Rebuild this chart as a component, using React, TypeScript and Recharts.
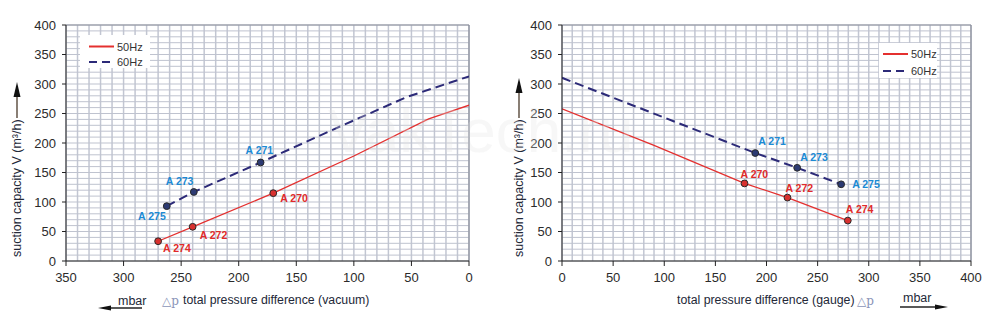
import React from "react";
import { ComposedChart, Line, Scatter, XAxis, YAxis, ReferenceLine, Legend, Label } from "recharts";

// left chart: vacuum (mbar below atmosphere)
const vacuumMbar50 = [270, 240, 170, 100, 35, 0];
const vacuumFlow50 = [33.5, 58, 115, 178, 241, 264];
const vacuumNames50 = ["A 274", "A 272", "A 270", "", "", ""];
const vacuumMbar60 = [262.5, 239, 181, 112, 54, 0];
const vacuumFlow60 = [93, 117, 167, 228, 278, 313];
const vacuumNames60 = ["A 275", "A 273", "A 271", "", "", ""];

// right chart: gauge pressure
const gaugeMbar50 = [0, 90, 178.5, 220.5, 279.5];
const gaugeFlow50 = [258, 196, 131.5, 107.5, 68.5];
const gaugeNames50 = ["", "", "A 270", "A 272", "A 274"];
const gaugeMbar60 = [0, 189, 230, 273];
const gaugeFlow60 = [310.5, 183, 158, 130];
const gaugeNames60 = ["", "A 271", "A 273", "A 275"];

const seriesNames = ["50Hz", "60Hz"];
const flowTicks = [0, 50, 100, 150, 200, 250, 300, 350, 400];
const vacuumTicks = [0, 50, 100, 150, 200, 250, 300, 350];
const gaugeTicks = [0, 50, 100, 150, 200, 250, 300, 350, 400];
const gridStep = 10;

const FONT = '"Liberation Sans", Arial, sans-serif';
const RED = "#e4302f";
const NAVY = "#2c2a78";
const RED_TEXT = "#e02a2a";
const BLUE_TEXT = "#1b8ad4";
const GRID_V = "#c2c6d2";
const GRID_H = "#bfc3cf";

// label placement next to each model point: [dx, dy, anchor]
const vacuumLabelPos: Record<string, [number, number, string]> = {
  "A 274": [5, 11, "start"],
  "A 272": [7, 12, "start"],
  "A 270": [7, 9, "start"],
  "A 275": [-1, 14, "end"],
  "A 273": [-28, -7, "start"],
  "A 271": [-15, -8, "start"],
};
const gaugeLabelPos: Record<string, [number, number, string]> = {
  "A 270": [-4, -5, "start"],
  "A 272": [-2, -6, "start"],
  "A 274": [-2, -8, "start"],
  "A 271": [3, -8, "start"],
  "A 273": [3, -7, "start"],
  "A 275": [11, 4, "start"],
};

const toPoints = (xs: number[], ys: number[], names: string[]) =>
  xs.map((x, i) => ({ x, y: ys[i], name: names[i] }));

const gridValues = (max: number) =>
  Array.from({ length: Math.round(max / gridStep) + 1 }, (_, i) => i * gridStep);

const makeDot = (fill: string, textColor: string, pos: Record<string, [number, number, string]>) =>
  (props: any) => {
    const { cx, cy, payload } = props;
    const p = pos[payload.name] || [5, 0, "start"];
    return (
      <g>
        <circle cx={cx} cy={cy} r={3.4} fill={fill} stroke="#2a2a2a" strokeWidth={1} />
        <text x={cx + p[0]} y={cy + p[1]} textAnchor={p[2] as any} fontSize={10.5} fontWeight="bold"
          fontFamily={FONT} fill={textColor}>{payload.name}</text>
      </g>
    );
  };

const LegendBox = ({ w, h, lineX, textX, row1, row2 }: any) => (
  <svg width={w} height={h} style={{ display: "block" }}>
    <rect x={0} y={0} width={w} height={h} fill="#fff" />
    <line x1={lineX} x2={lineX + 25} y1={row1} y2={row1} stroke={RED} strokeWidth={2} />
    <text x={textX} y={row1 + 4} fontSize={11} fontFamily={FONT} fill="#333">{seriesNames[0]}</text>
    <line x1={lineX} x2={lineX + 25} y1={row2} y2={row2} stroke={NAVY} strokeWidth={2} strokeDasharray="8 5" />
    <text x={textX} y={row2 + 4} fontSize={11} fontFamily={FONT} fill="#333">{seriesNames[1]}</text>
  </svg>
);

const YCaption = ({ viewBox, cx, top }: any) => {
  const bottom = viewBox.y + viewBox.height - 4;
  return (
    <g>
      <text transform={`translate(${cx + 4},${bottom}) rotate(-90)`} fontSize={12.5} fontFamily={FONT} fill="#232838">
        suction capacity V (m³/h)
      </text>
      <line x1={cx} x2={cx} y1={bottom - 139} y2={top + 12} stroke="#4a3a2a" strokeWidth={1.3} />
      <polygon points={`${cx},${top} ${cx - 3.5},${top + 15} ${cx + 3.5},${top + 15}`} fill="#111" />
    </g>
  );
};

const VacuumCaption = ({ viewBox }: any) => {
  const x = viewBox.x;
  const y = viewBox.y;
  return (
    <g fontFamily={FONT}>
      <line x1={x + 40} x2={x + 76} y1={y + 47} y2={y + 47} stroke="#222" strokeWidth={1.3} />
      <polygon points={`${x + 32},${y + 47} ${x + 45},${y + 44.5} ${x + 45},${y + 49.5}`} fill="#111" />
      <text x={x + 52} y={y + 44} fontSize={12.5} fill="#232838">mbar</text>
      <text x={x + 96} y={y + 44} fontSize={12} fontFamily='"DejaVu Serif", serif' fill="#8a94b8">△p</text>
      <text x={x + 117} y={y + 43} fontSize={12.3} fill="#232838">total pressure difference (vacuum)</text>
    </g>
  );
};

const GaugeCaption = ({ viewBox }: any) => {
  const x = viewBox.x;
  const y = viewBox.y;
  return (
    <g fontFamily={FONT}>
      <text x={x + 115} y={y + 43} fontSize={12.3} fill="#232838">total pressure difference (gauge)</text>
      <text x={x + 295} y={y + 44} fontSize={12} fontFamily='"DejaVu Serif", serif' fill="#8a94b8">△p</text>
      <text x={x + 341} y={y + 41} fontSize={12.5} fill="#232838">mbar</text>
      <line x1={x + 338} x2={x + 374} y1={y + 46} y2={y + 46} stroke="#222" strokeWidth={1.3} />
      <polygon points={`${x + 386},${y + 46} ${x + 373},${y + 43.5} ${x + 373},${y + 48.5}`} fill="#111" />
    </g>
  );
};

const tickStyle = { fontSize: 13, fill: "#2b2b2b", fontFamily: FONT };

interface PanelProps {
  width: number;
  yAxisWidth: number;
  rightMargin: number;
  xMax: number;
  xTicks: number[];
  reversed: boolean;
  pts50: { x: number; y: number; name: string }[];
  pts60: { x: number; y: number; name: string }[];
  labelPos: Record<string, [number, number, string]>;
  legendPos: { left: number; top: number };
  legend: any;
  yCaptionX: number;
  arrowTop: number;
  caption: (p: any) => React.ReactNode;
}

const Panel = (p: PanelProps) => {
  const edgeX = p.reversed ? 0 : p.xMax;
  return (
    <ComposedChart width={p.width} height={326} margin={{ top: 25, right: p.rightMargin, bottom: 0, left: 0 }}>
      <XAxis dataKey="x" type="number" domain={[0, p.xMax]} ticks={p.xTicks} reversed={p.reversed}
        allowDataOverflow height={65} tick={tickStyle} tickSize={5} tickMargin={7}
        axisLine={{ stroke: "#222" }} tickLine={{ stroke: "#222" }}>
        <Label content={p.caption as any} />
      </XAxis>
      <YAxis dataKey="y" type="number" domain={[0, 400]} ticks={flowTicks} allowDataOverflow
        width={p.yAxisWidth} tick={tickStyle} tickSize={4} tickMargin={6}
        axisLine={{ stroke: "#222" }} tickLine={{ stroke: "#222" }}>
        <Label content={(lp: any) => <YCaption viewBox={lp.viewBox} cx={p.yCaptionX} top={p.arrowTop} />} />
      </YAxis>
      {gridValues(p.xMax).map((v) => (
        <ReferenceLine key={"gx" + v} x={v} stroke={GRID_V} strokeWidth={1.5} />
      ))}
      {gridValues(400).map((v) => (
        <ReferenceLine key={"gy" + v} y={v} stroke={GRID_H} strokeWidth={1} />
      ))}
      <ReferenceLine y={400} stroke="#8a8e9a" strokeWidth={1.2} />
      <ReferenceLine x={edgeX} stroke="#8a8e9a" strokeWidth={1.2} />
      <Legend layout="vertical" align="center" verticalAlign="middle" content={() => p.legend}
        wrapperStyle={{ left: p.legendPos.left, top: p.legendPos.top, width: "auto" }} />
      <Line data={p.pts50} dataKey="y" name={seriesNames[0]} type="linear" stroke={RED} strokeWidth={1.3}
        dot={false} activeDot={false} isAnimationActive={false} />
      <Line data={p.pts60} dataKey="y" name={seriesNames[1]} type="linear" stroke={NAVY} strokeWidth={2}
        strokeDasharray="9 5" dot={false} activeDot={false} isAnimationActive={false} />
      <Scatter data={p.pts50.filter((d) => d.name)} legendType="none" isAnimationActive={false}
        shape={makeDot("#d8312f", RED_TEXT, p.labelPos)} />
      <Scatter data={p.pts60.filter((d) => d.name)} legendType="none" isAnimationActive={false}
        shape={makeDot("#2c3a72", BLUE_TEXT, p.labelPos)} />
    </ComposedChart>
  );
};

export default function App() {
  return (
    <div style={{ position: "absolute", left: 0, top: 0, width: 1006, height: 326, background: "#fff", overflow: "hidden" }}>
      <div style={{ position: "absolute", left: 0, top: 0 }}>
        <Panel width={500} yAxisWidth={66} rightMargin={31} xMax={350} xTicks={vacuumTicks} reversed
          pts50={toPoints(vacuumMbar50, vacuumFlow50, vacuumNames50)}
          pts60={toPoints(vacuumMbar60, vacuumFlow60, vacuumNames60)}
          labelPos={vacuumLabelPos} legendPos={{ left: 80, top: 35 }}
          legend={<LegendBox w={70} h={33} lineX={9} textX={37} row1={11.5} row2={27} />}
          yCaptionX={17} arrowTop={82} caption={(lp: any) => <VacuumCaption viewBox={lp.viewBox} />} />
      </div>
      <div style={{ position: "absolute", left: 500, top: 0 }}>
        <Panel width={506} yAxisWidth={62} rightMargin={35} xMax={400} xTicks={gaugeTicks} reversed={false}
          pts50={toPoints(gaugeMbar50, gaugeFlow50, gaugeNames50)}
          pts60={toPoints(gaugeMbar60, gaugeFlow60, gaugeNames60)}
          labelPos={gaugeLabelPos} legendPos={{ left: 379, top: 43 }}
          legend={<LegendBox w={58} h={35} lineX={4} textX={32} row1={11} row2={28} />}
          yCaptionX={19} arrowTop={78} caption={(lp: any) => <GaugeCaption viewBox={lp.viewBox} />} />
      </div>
      <div style={{ position: "absolute", left: 328, top: 100, fontFamily: FONT, fontSize: 62, lineHeight: 1,
        color: "rgba(225,225,225,0.28)", pointerEvents: "none", whiteSpace: "nowrap" }}>
        VakTech.ru
      </div>
    </div>
  );
}
